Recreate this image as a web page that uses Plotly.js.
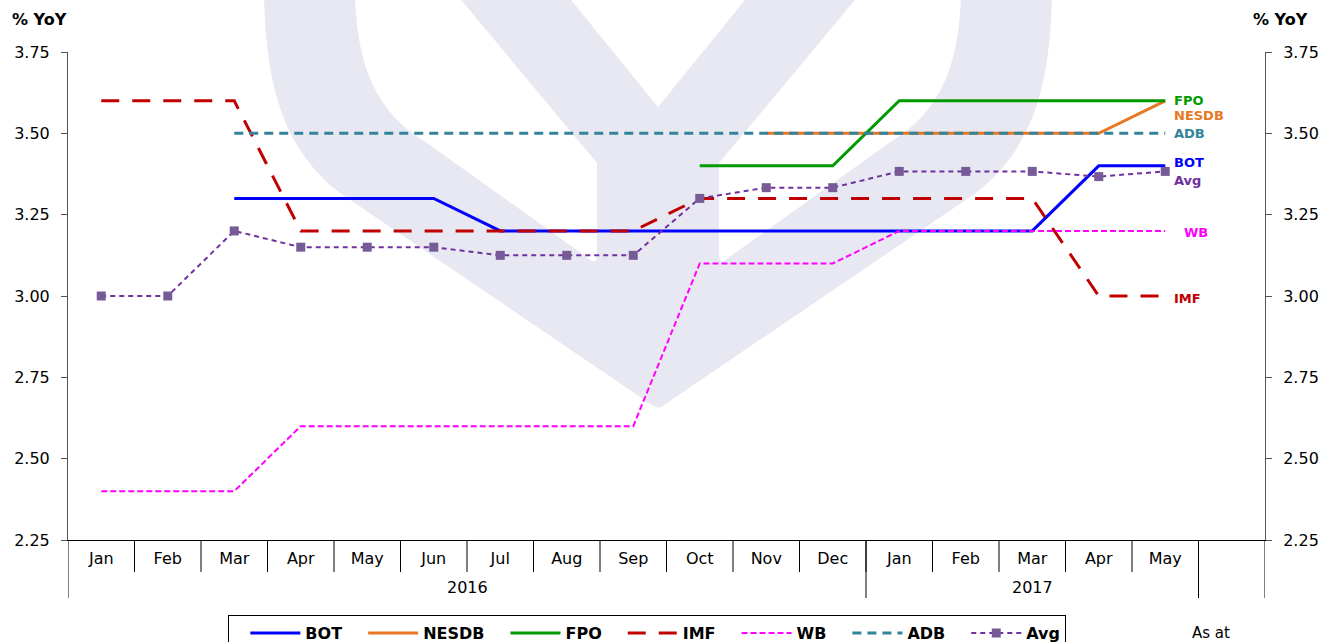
<!DOCTYPE html>
<html><head><meta charset="utf-8">
<script src="https://cdn.plot.ly/plotly-3.0.1.min.js"></script>
<style>
html,body{margin:0;padding:0;background:#fff;}
#wrap{position:relative;width:1333px;height:642px;overflow:hidden;background:#fff;}
#wm{position:absolute;left:0;top:0;}
#chart{position:absolute;left:0;top:0;width:1333px;height:642px;}
</style></head><body>
<div id="wrap">
<svg id="wm" width="1333" height="642">
<path fill="#e8e8f2" fill-rule="evenodd" d="M264,-5 C266,90 285,150 340,193 L652,405 Q658,410 664,405 L976,193 C1031,150 1050,90 1052,-5 Z
M355,-5 C357,60 372,110 427,143 L588,258 Q597,266 597,255 L597,163 L457,-5 Z
M961,-5 C959,60 944,110 889,143 L728,258 Q719,266 719,255 L719,163 L859,-5 Z
M567,-5 L658,107 L749,-5 Z"/>
</svg>
<div id="chart"></div>
</div>
<script>
// ---- data ----
const years  = ['2016','2016','2016','2016','2016','2016','2016','2016','2016','2016','2016','2016','2017','2017','2017','2017','2017'];
const months = ['Jan','Feb','Mar','Apr','May','Jun','Jul','Aug','Sep','Oct','Nov','Dec','Jan','Feb','Mar','Apr','May'];
const bot   = [null,null,3.30,3.30,3.30,3.30,3.20,3.20,3.20,3.20,3.20,3.20,3.20,3.20,3.20,3.40,3.40];
const nesdb = [null,null,null,null,null,null,null,null,null,null,3.50,3.50,3.50,3.50,3.50,3.50,3.60];
const fpo   = [null,null,null,null,null,null,null,null,null,3.40,3.40,3.40,3.60,3.60,3.60,3.60,3.60];
const imf   = [3.60,3.60,3.60,3.20,3.20,3.20,3.20,3.20,3.20,3.30,3.30,3.30,3.30,3.30,3.30,3.00,3.00];
const wb    = [2.40,2.40,2.40,2.60,2.60,2.60,2.60,2.60,2.60,3.10,3.10,3.10,3.20,3.20,3.20,3.20,3.20];
const adb   = [null,null,3.50,3.50,3.50,3.50,3.50,3.50,3.50,3.50,3.50,3.50,3.50,3.50,3.50,3.50,3.50];
const avg   = [3.00,3.00,3.20,3.15,3.15,3.15,3.125,3.125,3.125,3.30,3.333,3.333,3.383,3.383,3.383,3.367,3.383];
const yTicks = [2.25,2.50,2.75,3.00,3.25,3.50,3.75];

const FONT = 'DejaVu Sans, Arial, sans-serif';
const cats = months.map((m,i) => m + ' ' + years[i]);   // unique category keys
const n = months.length;
const last = n - 1;
const slots = n + 1;   // one empty slot after the last month

const C = {bot:'#0000ff', nesdb:'#e87722', fpo:'#009a00', imf:'#c00000', wb:'#ff00ff', adb:'#31849b', avg:'#7030a0'};

function tr(name, y, color, width, dash, extra){
  return Object.assign({type:'scatter', mode:'lines', name:name, x:cats, y:y,
    line:{color:color, width:width, dash:dash}, connectgaps:false, hoverinfo:'skip'}, extra||{});
}
const traces = [
  tr('BOT', bot, C.bot, 3, 'solid'),
  tr('NESDB', nesdb, C.nesdb, 3, 'solid'),
  tr('FPO', fpo, C.fpo, 3, 'solid'),
  tr('IMF', imf, C.imf, 3, '18px,13px'),
  tr('WB', wb, C.wb, 2, '6px,3px'),
  tr('ADB', adb, C.adb, 3, '9px,6px'),
  tr('Avg', avg, C.avg, 2, '5px,4px', {mode:'lines+markers', marker:{symbol:'square', size:9, color:'#765c96'}}),
  {type:'scatter', mode:'markers', x:[cats[0]], y:[null], yaxis:'y2', showlegend:false, hoverinfo:'skip', marker:{opacity:0}}
];

function endLabel(text, series, color, xs, ys){
  return {xref:'x', yref:'y', x:last, y:series[last], text:'<b>'+text+'</b>', showarrow:false,
    xanchor:'left', yanchor:'middle', xshift:xs, yshift:ys, font:{family:FONT, size:13, color:color}};
}

// axis decorations: month separators and year group separators / labels
const PLOT_H = 488;
const shapes = [];
for (let i = 1; i < n; i++) {
  shapes.push({type:'line', xref:'x', yref:'paper', x0:i-0.5, x1:i-0.5, y0:0, y1:-32/PLOT_H, line:{color:'#000', width:1}});
}
const groupBounds = [-0.5];
const yearAnn = [];
let start = 0;
for (let i = 1; i <= n; i++) {
  if (i === n || years[i] !== years[start]) {
    groupBounds.push(i - 0.5);
    yearAnn.push({xref:'x', yref:'paper', x:(start + i - 1)/2, y:-47/PLOT_H, yanchor:'middle', xanchor:'center',
      showarrow:false, text:years[start], font:{family:FONT, size:16, color:'#000'}});
    start = i;
  }
}
groupBounds.push(slots - 0.5);
groupBounds.forEach(b => shapes.push({type:'line', xref:'x', yref:'paper', x0:b, x1:b, y0:0, y1:-58/PLOT_H, line:{color:'#000', width:1}}));

const axisY = {range:[2.25,3.75], tickvals:yTicks, ticktext:yTicks.map(v=>v.toFixed(2)),
  showgrid:false, zeroline:false, showline:true, linecolor:'#555', linewidth:1,
  ticks:'outside', ticklen:6, tickcolor:'#555', ticklabelstandoff:8,
  tickfont:{family:FONT, size:16, color:'#000'}, fixedrange:true};

const LEG_PAD = 18;
const layout = {
  width:1333, height:642,
  margin:{l:68, r:68, t:52, b:102, autoexpand:false},
  paper_bgcolor:'rgba(0,0,0,0)', plot_bgcolor:'rgba(0,0,0,0)',
  font:{family:FONT, color:'#000'},
  showlegend:true,
  legend:{orientation:'h', x:0.484, xanchor:'center', y:-0.154, yanchor:'top',
    bordercolor:'#000', borderwidth:1, bgcolor:'#fff',
    font:{family:FONT, size:16, color:'#000', weight:'bold'}, itemwidth:48+LEG_PAD, traceorder:'normal'},
  xaxis:{type:'category', range:[-0.5, slots-0.5], tickvals:cats, ticktext:months,
    showgrid:false, zeroline:false, showline:true, linecolor:'#000', linewidth:1,
    ticks:'', ticklabelstandoff:4,
    tickfont:{family:FONT, size:16, color:'#000'}, fixedrange:true},
  yaxis:Object.assign({side:'left'}, axisY),
  yaxis2:Object.assign({side:'right', overlaying:'y'}, axisY),
  shapes:shapes,
  annotations:[
    {xref:'paper', yref:'paper', x:0, y:1, xshift:-58, yshift:33, xanchor:'left', yanchor:'middle', showarrow:false,
      text:'<b>% YoY</b>', font:{family:FONT, size:16, color:'#000'}},
    {xref:'paper', yref:'paper', x:1, y:1, xshift:-14, yshift:33, xanchor:'left', yanchor:'middle', showarrow:false,
      text:'<b>% YoY</b>', font:{family:FONT, size:16, color:'#000'}},
    endLabel('FPO', fpo, C.fpo, 7, 0),
    endLabel('NESDB', nesdb, C.nesdb, 7, -15),
    endLabel('ADB', adb, C.adb, 7, 0),
    endLabel('BOT', bot, C.bot, 7, 3),
    endLabel('Avg', avg, C.avg, 7, -9),
    endLabel('WB', wb, C.wb, 17, -2),
    endLabel('IMF', imf, C.imf, 7, -2),
    {xref:'paper', yref:'paper', x:(1190-68)/1197, y:-0.19, xanchor:'left', yanchor:'middle', showarrow:false,
      text:'As at', font:{family:FONT, size:15, color:'#000'}}
  ].concat(yearAnn)
};

Plotly.newPlot('chart', traces, layout, {displayModeBar:false, staticPlot:true}).then(function(gd){
  // longer legend line samples (50px), marker centred on them
  gd.querySelectorAll('.legend .legendlines path').forEach(p => p.setAttribute('d', 'M' + (3+LEG_PAD) + ',0h50'));
  gd.querySelectorAll('.legend .legendpoints path').forEach(p => p.setAttribute('transform', 'translate(' + (28+LEG_PAD) + ',0)'));
});
</script>
</body></html>
